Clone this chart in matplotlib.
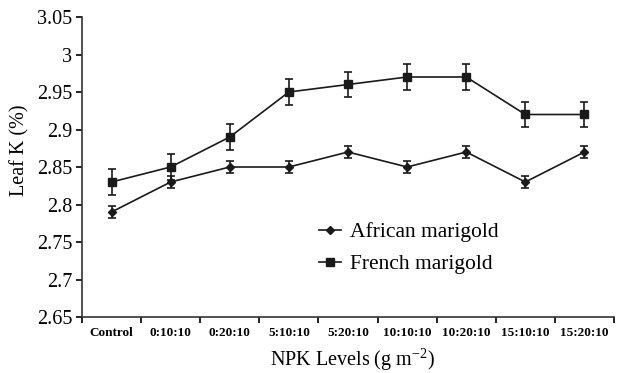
import matplotlib
matplotlib.use("Agg")
import matplotlib.pyplot as plt
from matplotlib.lines import Line2D
import numpy as np

categories = ["Control", "0:10:10", "0:20:10", "5:10:10", "5:20:10",
              "10:10:10", "10:20:10", "15:10:10", "15:20:10"]
african = [2.79, 2.83, 2.85, 2.85, 2.87, 2.85, 2.87, 2.83, 2.87]
french = [2.83, 2.85, 2.89, 2.95, 2.96, 2.97, 2.97, 2.92, 2.92]
african_err = [0.008] * 9
french_err = [0.017] * 9

plt.rcParams['font.family'] = ['Liberation Serif', 'DejaVu Serif']
col = '#1a1a1a'

fig = plt.figure(figsize=(6.22, 3.73), dpi=100)
ax = fig.add_axes([82/622, 1 - 317/373, 532/622, 300/373])

x = np.arange(len(categories))
ax.errorbar(x, african, yerr=african_err, color=col, marker='D', markersize=4.5,
            lw=1.2, capsize=3, elinewidth=1.2, capthick=1.2)
ax.errorbar(x, french, yerr=french_err, color=col, marker='s', markersize=6,
            lw=1.2, capsize=3, elinewidth=1.2, capthick=1.2)

ax.set_xlim(-0.5, len(categories) - 0.5)
ax.set_ylim(2.65, 3.05)
ax.set_yticks(np.arange(2.65, 3.0501, 0.05))
ax.set_yticklabels(['2.65', '2.7', '2.75', '2.8', '2.85', '2.9', '2.95', '3', '3.05'], fontsize=14.5)
ax.set_xticks(x)
ax.set_xticklabels(categories, fontsize=9.5, fontweight='bold')
ax.set_xticks(np.arange(-0.5, len(categories), 1), minor=True)
ax.tick_params(axis='x', which='major', length=0, pad=7)
ax.tick_params(axis='x', which='minor', length=4, width=1.2, direction='out')
ax.tick_params(axis='y', length=4, width=1.2, direction='out', pad=3)

for s in ['top', 'right']:
    ax.spines[s].set_visible(False)
for s in ['left', 'bottom']:
    ax.spines[s].set_linewidth(1.2)
    ax.spines[s].set_color('#333333')

ax.set_ylabel('Leaf K (%)', fontsize=14.5)
ax.yaxis.set_label_coords(-0.098, 0.557)
ax.set_xlabel('NPK Levels (g m$^{\\mathregular{-2}}$)', fontsize=14.5)
ax.xaxis.set_label_coords(0.509, -0.098)

handles = [Line2D([], [], color=col, marker='D', markersize=4.5, lw=1.2),
           Line2D([], [], color=col, marker='s', markersize=6, lw=1.2)]
ax.legend(handles, ['African marigold', 'French marigold'],
          loc='upper left', bbox_to_anchor=(300/622, 1 - 203/373),
          bbox_transform=fig.transFigure, frameon=False, fontsize=15.5,
          handlelength=1.0, handletextpad=0.4, labelspacing=0.55)

fig.savefig('out.png', dpi=100)
